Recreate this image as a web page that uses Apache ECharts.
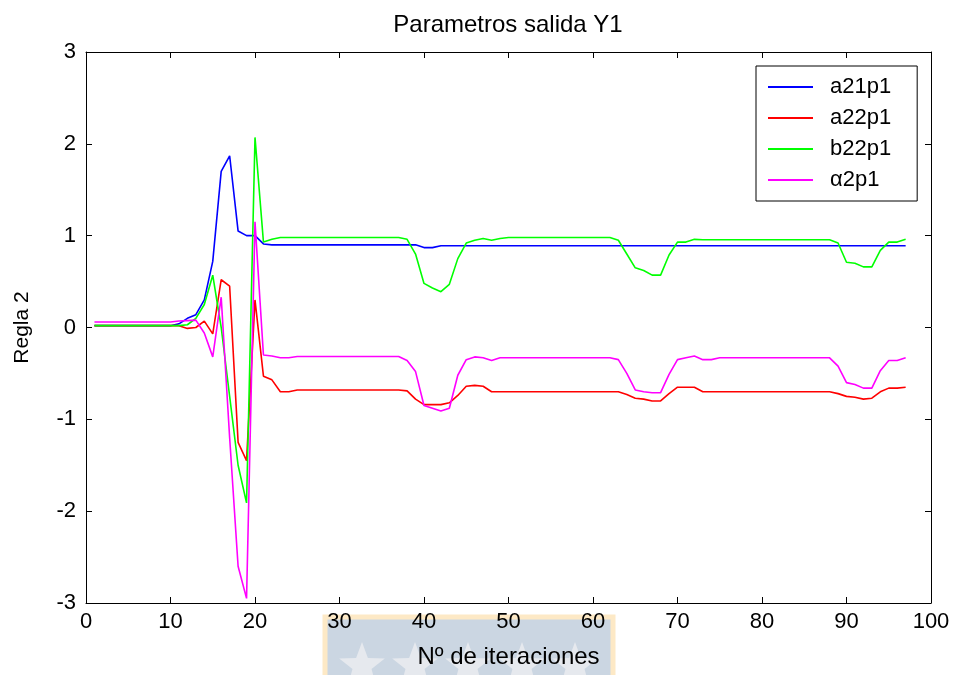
<!DOCTYPE html>
<html>
<head>
<meta charset="utf-8">
<script src="https://cdn.jsdelivr.net/npm/echarts@6/dist/echarts.min.js"></script>
<style>
html,body{margin:0;padding:0;background:#fff;}
#chart{width:956px;height:675px;}
</style>
</head>
<body>
<div id="chart"></div>
<script>
var seriesNames = ['a21p1', 'a22p1', 'b22p1', 'α2p1'];
var seriesColors = ['#0000ff', '#ff0000', '#00ff00', '#ff00ff'];
var xTicks = [0, 10, 20, 30, 40, 50, 60, 70, 80, 90, 100];
var yTicks = [-3, -2, -1, 0, 1, 2, 3];

// iterations 1..97
var a21p1 = [0.02,0.02,0.02,0.02,0.02,0.02,0.02,0.02,0.02,0.02,
  0.04,0.10,0.14,0.30,0.72,1.70,1.87,1.05,1.00,1.00,
  0.91,0.90,0.90,0.90,0.90,0.90,0.90,0.90,0.90,0.90,
  0.90,0.90,0.90,0.90,0.90,0.90,0.90,0.90,0.90,0.87,
  0.87,0.89,0.89,0.89,0.89,0.89,0.89,0.89,0.89,0.89,
  0.89,0.89,0.89,0.89,0.89,0.89,0.89,0.89,0.89,0.89,
  0.89,0.89,0.89,0.89,0.89,0.89,0.89,0.89,0.89,0.89,
  0.89,0.89,0.89,0.89,0.89,0.89,0.89,0.89,0.89,0.89,
  0.89,0.89,0.89,0.89,0.89,0.89,0.89,0.89,0.89,0.89,
  0.89,0.89,0.89,0.89,0.89,0.89,0.89];
var a22p1 = [0.02,0.02,0.02,0.02,0.02,0.02,0.02,0.02,0.02,0.02,
  0.02,-0.01,0.00,0.07,-0.07,0.52,0.45,-1.25,-1.45,0.30,
  -0.53,-0.57,-0.70,-0.70,-0.68,-0.68,-0.68,-0.68,-0.68,-0.68,
  -0.68,-0.68,-0.68,-0.68,-0.68,-0.68,-0.68,-0.69,-0.78,-0.84,
  -0.84,-0.84,-0.82,-0.74,-0.64,-0.63,-0.64,-0.70,-0.70,-0.70,
  -0.70,-0.70,-0.70,-0.70,-0.70,-0.70,-0.70,-0.70,-0.70,-0.70,
  -0.70,-0.70,-0.70,-0.73,-0.77,-0.78,-0.80,-0.80,-0.72,-0.65,
  -0.65,-0.65,-0.70,-0.70,-0.70,-0.70,-0.70,-0.70,-0.70,-0.70,
  -0.70,-0.70,-0.70,-0.70,-0.70,-0.70,-0.70,-0.70,-0.72,-0.75,
  -0.76,-0.78,-0.77,-0.70,-0.66,-0.66,-0.65];
var b22p1 = [0.02,0.02,0.02,0.02,0.02,0.02,0.02,0.02,0.02,0.02,
  0.02,0.03,0.10,0.25,0.57,0.00,-0.75,-1.50,-1.91,2.07,
  0.93,0.96,0.98,0.98,0.98,0.98,0.98,0.98,0.98,0.98,
  0.98,0.98,0.98,0.98,0.98,0.98,0.98,0.96,0.80,0.48,
  0.43,0.39,0.47,0.75,0.92,0.95,0.97,0.95,0.97,0.98,
  0.98,0.98,0.98,0.98,0.98,0.98,0.98,0.98,0.98,0.98,
  0.98,0.98,0.95,0.80,0.65,0.62,0.57,0.57,0.79,0.93,
  0.93,0.96,0.955,0.955,0.955,0.955,0.955,0.955,0.955,0.955,
  0.955,0.955,0.955,0.955,0.955,0.955,0.955,0.955,0.92,0.71,
  0.70,0.66,0.66,0.84,0.93,0.93,0.96];
var alpha2p1 = [0.06,0.06,0.06,0.06,0.06,0.06,0.06,0.06,0.06,0.06,
  0.07,0.075,0.08,-0.06,-0.32,0.33,-1.20,-2.60,-2.95,1.15,
  -0.30,-0.31,-0.33,-0.33,-0.315,-0.315,-0.315,-0.315,-0.315,-0.315,
  -0.315,-0.315,-0.315,-0.315,-0.315,-0.315,-0.315,-0.36,-0.48,-0.85,
  -0.88,-0.91,-0.88,-0.52,-0.35,-0.32,-0.33,-0.36,-0.33,-0.33,
  -0.33,-0.33,-0.33,-0.33,-0.33,-0.33,-0.33,-0.33,-0.33,-0.33,
  -0.33,-0.33,-0.35,-0.50,-0.68,-0.70,-0.71,-0.71,-0.51,-0.35,
  -0.33,-0.31,-0.35,-0.35,-0.33,-0.33,-0.33,-0.33,-0.33,-0.33,
  -0.33,-0.33,-0.33,-0.33,-0.33,-0.33,-0.33,-0.33,-0.42,-0.60,
  -0.62,-0.66,-0.66,-0.47,-0.36,-0.36,-0.33];

var allValues = [a21p1, a22p1, b22p1, alpha2p1];

function toPairs(arr) {
  return arr.map(function (v, k) { return [k + 1, v]; });
}

var FONT = 'Liberation Sans, Arial, sans-serif';

function starPoints(cx, cy, R, r) {
  var pts = [];
  for (var k = 0; k < 10; k++) {
    var ang = -Math.PI / 2 + k * Math.PI / 5;
    var rad = (k % 2 === 0) ? R : r;
    pts.push([cx + rad * Math.cos(ang), cy + rad * Math.sin(ang)]);
  }
  return pts;
}

var watermark = [{
  type: 'rect', z: -10, silent: true,
  shape: { x: 325, y: 617, width: 288, height: 62 },
  style: { fill: '#cbd6e2', stroke: '#fde9c6', lineWidth: 5 }
}];
[362, 415, 468, 522, 575].forEach(function (cx) {
  watermark.push({
    type: 'polygon', z: -9, silent: true,
    shape: { points: starPoints(cx, 666, 24, 10) },
    style: { fill: '#e6e9ee' }
  });
});

var axisCommon = {
  axisLine: { show: true, onZero: false, lineStyle: { color: '#000', width: 1 } },
  axisTick: { show: true, inside: true, length: 6, lineStyle: { color: '#000' } },
  splitLine: { show: false }
};

var chart = echarts.init(document.getElementById('chart'));
chart.setOption({
  backgroundColor: '#fff',
  animation: false,
  graphic: watermark,
  title: {
    text: 'Parametros salida Y1',
    left: 503, top: 8, textAlign: 'center',
    textStyle: { fontFamily: FONT, fontSize: 24, fontWeight: 'normal', color: '#000' }
  },
  legend: {
    orient: 'vertical',
    left: 756, top: 66,
    padding: [10, 26, 10, 12],
    itemGap: 9,
    itemWidth: 45, itemHeight: 2,
    icon: 'rect',
    backgroundColor: '#fff',
    borderColor: '#000', borderWidth: 1,
    data: seriesNames,
    textStyle: { fontFamily: FONT, fontSize: 22, color: '#000', lineHeight: 22, padding: [0, 0, 0, 12] }
  },
  grid: { left: 86, right: 25, top: 52, bottom: 72, containLabel: false },
  xAxis: [
    Object.assign({
      type: 'value', position: 'bottom', min: xTicks[0], max: xTicks[xTicks.length - 1], interval: 10,
      name: 'Nº de iteraciones', nameLocation: 'middle', nameGap: 42,
      nameTextStyle: { fontFamily: FONT, fontSize: 24, color: '#000' },
      axisLabel: { fontFamily: FONT, fontSize: 22, color: '#000', margin: 8 }
    }, axisCommon),
    Object.assign({
      type: 'value', position: 'top', min: xTicks[0], max: xTicks[xTicks.length - 1], interval: 10,
      axisLabel: { show: false }
    }, axisCommon)
  ],
  yAxis: [
    Object.assign({
      type: 'value', position: 'left', min: yTicks[0], max: yTicks[yTicks.length - 1], interval: 1,
      name: 'Regla 2', nameLocation: 'middle', nameGap: 53, nameRotate: 90,
      nameTextStyle: { fontFamily: FONT, fontSize: 21, color: '#000' },
      axisLabel: { fontFamily: FONT, fontSize: 22, color: '#000', margin: 10 }
    }, axisCommon),
    Object.assign({
      type: 'value', position: 'right', min: yTicks[0], max: yTicks[yTicks.length - 1], interval: 1,
      axisLabel: { show: false }
    }, axisCommon)
  ],
  series: seriesNames.map(function (n, k) {
    return {
      name: n, type: 'line', xAxisIndex: 0, yAxisIndex: 0,
      data: toPairs(allValues[k]),
      showSymbol: false, symbol: 'none',
      lineStyle: { color: seriesColors[k], width: 1.6 },
      itemStyle: { color: seriesColors[k] },
      z: 2 + k
    };
  })
});
</script>
</body>
</html>
